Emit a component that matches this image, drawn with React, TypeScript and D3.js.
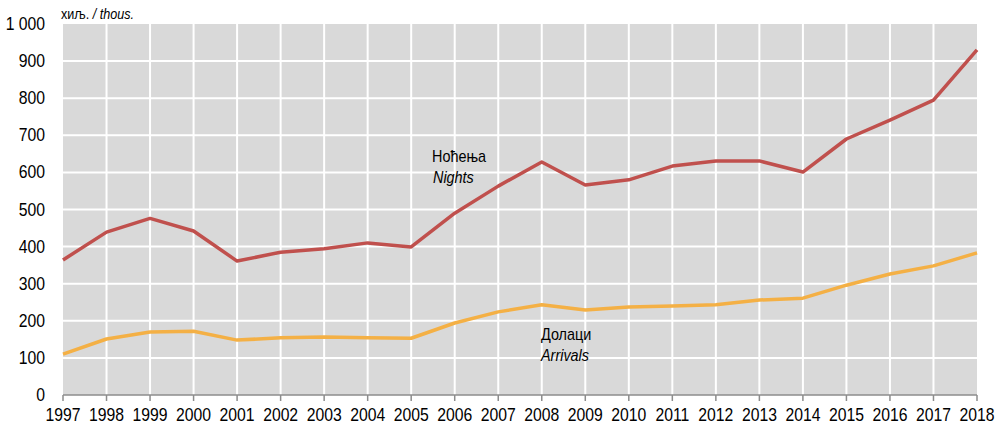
import React from 'react';
import * as d3 from 'd3';

const years = [1997, 1998, 1999, 2000, 2001, 2002, 2003, 2004, 2005, 2006, 2007, 2008, 2009, 2010, 2011, 2012, 2013, 2014, 2015, 2016, 2017, 2018];
const nights = [364, 439, 476, 442, 361, 385, 394, 410, 399, 490, 563, 628, 566, 580, 617, 631, 631, 601, 690, 741, 795, 930];
const arrivals = [110, 151, 170, 172, 148, 154, 156, 154, 153, 194, 224, 243, 229, 237, 240, 243, 256, 261, 296, 326, 348, 383];
const yTicks = [0, 100, 200, 300, 400, 500, 600, 700, 800, 900, 1000];

const W = 997;
const H = 426;
const margin = {top: 24, right: 20, bottom: 31, left: 63};
const font = '"Liberation Sans", Arial, sans-serif';

// Narrow-looking text: the source uses a condensed Arial
const T = ({x, y, size, anchor, italic, children}: any) => (
  <g transform={`translate(${x},${y}) scale(0.9,1)`}>
    <text fontSize={size} textAnchor={anchor || 'start'} fontStyle={italic ? 'italic' : 'normal'} fill="#000">
      {children}
    </text>
  </g>
);

export default function App() {
  const x = d3
    .scaleLinear()
    .domain([years[0], years[years.length - 1]])
    .range([margin.left, W - margin.right]);
  const y = d3
    .scaleLinear()
    .domain([0, 1000])
    .range([H - margin.bottom, margin.top]);

  const line = d3
    .line<number>()
    .x((_, i) => x(years[i]))
    .y((d) => y(d));

  const fmt = (v: number) => (v >= 1000 ? '1 000' : String(v));
  const x0 = x(years[0]);
  const x1 = x(years[years.length - 1]);

  return (
    <svg width={W} height={H} style={{position: 'absolute', left: 0, top: 0}} fontFamily={font}>
      <rect x={x0} y={y(1000)} width={x1 - x0} height={y(0) - y(1000)} fill="#d9d9d9" />
      {/* grid lines */}
      {yTicks.slice(1, -1).map((t) => (
        <line key={t} x1={x0} x2={x1} y1={y(t)} y2={y(t)} stroke="#fff" strokeWidth={2} />
      ))}
      {years.slice(1, -1).map((yr) => (
        <line key={yr} x1={x(yr)} x2={x(yr)} y1={y(1000)} y2={y(0)} stroke="#fff" strokeWidth={2} />
      ))}
      {/* x axis */}
      <line x1={x0} x2={x1} y1={y(0)} y2={y(0)} stroke="#8c8c8c" strokeWidth={1.5} />
      {years.map((yr) => (
        <g key={yr}>
          <line x1={x(yr)} x2={x(yr)} y1={y(0)} y2={y(0) + 6} stroke="#8c8c8c" strokeWidth={1.5} />
          <T x={x(yr)} y={421} size={17.5} anchor="middle">
            {yr}
          </T>
        </g>
      ))}
      {/* y labels */}
      {yTicks.map((t) => (
        <T key={t} x={45} y={y(t) + 6} size={17.5} anchor="end">
          {fmt(t)}
        </T>
      ))}
      <g transform="translate(61,19) scale(0.9,1)">
        <text fontSize={14} fill="#000">
          хиљ. <tspan fontStyle="italic">/ thous.</tspan>
        </text>
      </g>
      {/* series */}
      <path d={line(arrivals) || ''} fill="none" stroke="#f4b045" strokeWidth={3.5} strokeLinejoin="round" />
      <path d={line(nights) || ''} fill="none" stroke="#c0504d" strokeWidth={3.5} strokeLinejoin="round" />
      <T x={432} y={162} size={16}>Ноћења</T>
      <T x={433} y={183} size={16} italic>Nights</T>
      <T x={541} y={340} size={16}>Долаци</T>
      <T x={541} y={361} size={16} italic>Arrivals</T>
    </svg>
  );
}
